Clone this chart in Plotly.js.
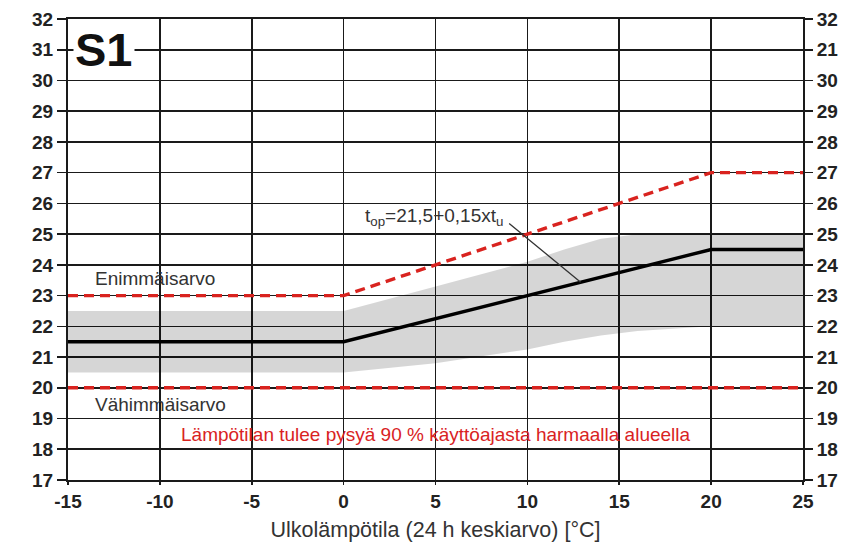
<!DOCTYPE html>
<html>
<head>
<meta charset="utf-8">
<script src="https://cdn.plot.ly/plotly-3.0.1.min.js"></script>
<style>html,body{margin:0;padding:0;background:#fff;}#chart{width:848px;height:546px;}</style>
</head>
<body>
<div id="chart"></div>
<script>
// Breakpoints of the limit / target lines (outdoor temperature, °C)
const limitX = [-15, 0, 20, 25];
const upperLimit = [23, 23, 27, 27];      // Enimmäisarvo
const lowerLimit = [20, 20, 20, 20];      // Vähimmäisarvo
const targetTemp = [21.5, 21.5, 24.5, 24.5]; // t_op = 21,5 + 0,15 x t_u

// Grey band (90 % of operating time)
const bandX = [-15, 0, 5, 10, 12, 14, 16, 20, 25];
const bandTop = [22.5, 22.5, 23.3, 24.1, 24.5, 24.85, 25, 25, 25];
const bandBottom = [20.5, 20.5, 20.8, 21.25, 21.5, 21.7, 21.85, 22, 22];

// Axis ticks
const yTicks = [17,18,19,20,21,22,23,24,25,26,27,28,29,30,31,32];
const yTicksRight = ['17','18','19','20','21','22','23','24','25','26','27','28','29','30','21','32'];
const xTicks = [-15,-10,-5,0,5,10,15,20,25];

// Leader of formula label points to target line at this outdoor temperature
const leaderX = 12.9;
const leaderY = 21.5 + 0.15 * leaderX;

const FONT = 'Liberation Sans, Arial, sans-serif';
const RED = '#d9231f';

const traces = [
  {x: bandX, y: bandBottom, mode: 'lines', line: {width: 0, color: 'rgba(0,0,0,0)'}, hoverinfo: 'skip', showlegend: false},
  {x: bandX, y: bandTop, mode: 'lines', fill: 'tonexty', fillcolor: 'rgba(0,0,0,0.16)', line: {width: 0, color: 'rgba(0,0,0,0)'}, hoverinfo: 'skip', showlegend: false},
  {x: limitX, y: targetTemp, mode: 'lines', line: {color: '#000', width: 3.4}, showlegend: false},
  {x: limitX, y: upperLimit, mode: 'lines', line: {color: RED, width: 3.4, dash: '10px,6px'}, showlegend: false},
  {x: limitX, y: lowerLimit, mode: 'lines', line: {color: RED, width: 3.4, dash: '10px,6px'}, showlegend: false},
  {x: [0], y: [20], yaxis: 'y2', mode: 'markers', marker: {opacity: 0}, hoverinfo: 'skip', showlegend: false}
];

const tickFont = {family: FONT, size: 19, color: '#222', weight: 'bold'};

const layout = {
  width: 848, height: 546,
  margin: {l: 68, r: 45, t: 19, b: 66},
  paper_bgcolor: '#fff', plot_bgcolor: '#fff',
  xaxis: {
    range: [-15, 25], tickvals: xTicks, ticktext: xTicks.map(String),
    showgrid: true, gridcolor: '#1a1a1a', gridwidth: 1.6,
    zeroline: false, showline: true, linecolor: '#1a1a1a', linewidth: 2, mirror: true,
    ticks: 'outside', ticklen: 3, tickcolor: '#1a1a1a', tickwidth: 1.6,
    tickfont: tickFont,
    title: {text: 'Ulkolämpötila (24 h keskiarvo) [°C]', font: {family: FONT, size: 21.5, color: '#333'}, standoff: 11}
  },
  yaxis: {
    range: [17, 32], tickvals: yTicks, ticktext: yTicks.map(String),
    showgrid: true, gridcolor: '#1a1a1a', gridwidth: 1.6,
    zeroline: false, showline: true, linecolor: '#1a1a1a', linewidth: 2, mirror: true,
    ticks: 'outside', ticklen: 9, tickcolor: '#1a1a1a', tickwidth: 1.6,
    tickfont: tickFont
  },
  yaxis2: {
    overlaying: 'y', side: 'right', range: [17, 32],
    tickvals: yTicks, ticktext: yTicksRight,
    showgrid: false, zeroline: false, showline: false,
    ticks: 'outside', ticklen: 9, tickcolor: '#1a1a1a', tickwidth: 1.6,
    tickfont: tickFont
  },
  annotations: [
    {x: -14.75, y: 31, xref: 'x', yref: 'y', xanchor: 'left', yanchor: 'middle', text: '<b>S1</b>', showarrow: false,
     font: {family: FONT, size: 47, color: '#111'}, bgcolor: '#fff', borderpad: 1},
    {x: -13.65, y: 23.55, xref: 'x', yref: 'y', xanchor: 'left', yanchor: 'middle', text: 'Enimmäisarvo', showarrow: false,
     font: {family: FONT, size: 19, color: '#333'}},
    {x: -13.65, y: 19.47, xref: 'x', yref: 'y', xanchor: 'left', yanchor: 'middle', text: 'Vähimmäisarvo', showarrow: false,
     font: {family: FONT, size: 19, color: '#333'}},
    {x: 5, y: 18.47, xref: 'x', yref: 'y', xanchor: 'center', yanchor: 'middle', text: 'Lämpötilan tulee pysyä 90 % käyttöajasta harmaalla alueella', showarrow: false,
     font: {family: FONT, size: 19, color: RED}},
    {x: 1.05, y: 25.55, xref: 'x', yref: 'y', xanchor: 'left', yanchor: 'middle', text: 't<sub>op</sub>=21,5+0,15xt<sub>u</sub>', showarrow: false,
     font: {family: FONT, size: 19, color: '#333'}},
    {x: leaderX, y: leaderY, xref: 'x', yref: 'y', text: '', showarrow: true, arrowhead: 0, arrowwidth: 1.3, arrowcolor: '#333',
     ax: -73, ay: -60}
  ]
};

Plotly.newPlot('chart', traces, layout, {displayModeBar: false, staticPlot: true});
</script>
</body>
</html>
